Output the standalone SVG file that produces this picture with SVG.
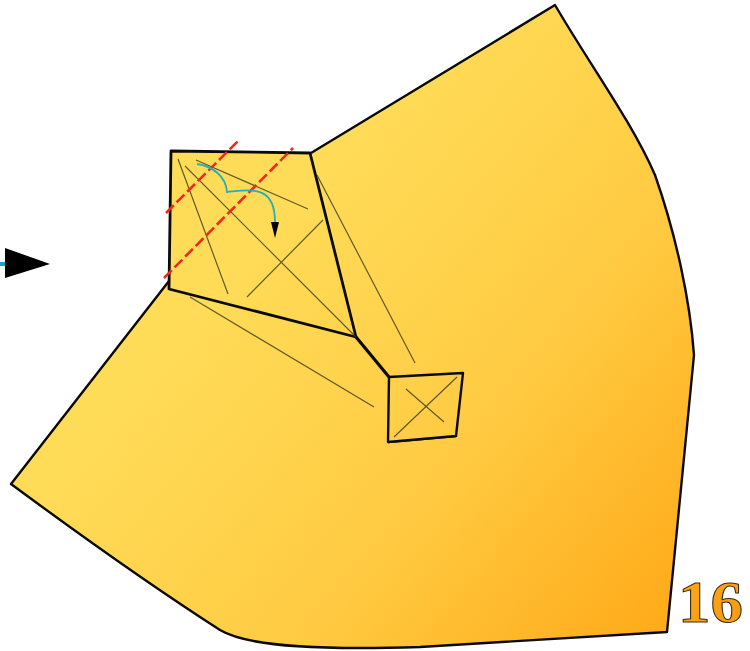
<svg xmlns="http://www.w3.org/2000/svg" width="750" height="651" viewBox="0 0 750 651">
<style>
.o{fill:none;stroke:#0a0a0a;stroke-linejoin:round}
.t{fill:none;stroke:#3a3a1e;stroke-width:1.2;opacity:.8}
.d{fill:none;stroke:#ee2a1c;stroke-width:2.6;stroke-dasharray:11 4}
</style>
<defs>
<linearGradient id="g" gradientUnits="userSpaceOnUse" x1="240" y1="250" x2="690" y2="630">
<stop offset="0" stop-color="#ffdc58"/><stop offset=".5" stop-color="#ffcb42"/><stop offset="1" stop-color="#ffa816"/>
</linearGradient>
<linearGradient id="n" x1="0" y1="0" x2="1" y2="1"><stop offset="0" stop-color="#ffa91a"/><stop offset="1" stop-color="#f49a10"/></linearGradient>
</defs>
<g id="sheet">
<path d="M171 151L310 153L555 5C590 65 632 122 655 175C676 235 690 300 694 355L667 632L420 647C330 650 250 648 220 630C150 585 80 535 11 484L169 281Z" fill="url(#g)"/>
<path d="M311 153L555 5C590 65 632 122 655 175C676 235 690 300 694 355L667 632L420 647C330 650 250 648 220 630C150 585 80 535 11 484L169 281" class="o" stroke-width="2.4"/>
</g>
<g id="kite">
<path d="M171 151L310 153L356 337L169 289Z" class="o" stroke-width="2.8"/>
<path d="M356 337L389 377" class="o" stroke-width="3.2"/>
</g>
<g id="square">
<path d="M389 377L463 373L456 436L388 442Z" class="o" stroke-width="2.4"/>
<path d="M388 442.500L456 436.500" class="o" stroke-width="1.400"/>
</g>
<g id="connectors">
<path class="t" d="M178 159L228 294M185 166L356 337M196 160L308 209M323 220L247 297M190 297L374 407M317 175L415 363M457 377L394 437M406 389L444 422"/>
<path class="d" d="M166 213L238 141M164 278L293 148"/>
<path d="M197 164C212 166 226 176 227 192C250 190 275 184 275 222" fill="none" stroke="#25aebd" stroke-width="1.8"/>
<path d="M271 222L279 222L275 238Z" fill="#000"/>
<path d="M0 264L8 264" stroke="#1ba5c8" stroke-width="4"/>
<path d="M5 248L50 264L5 278Z" fill="#000"/>
</g>
<text id="page-number" x="678" y="622" font-family="'Liberation Serif',serif" font-weight="700" font-size="60" textLength="65" lengthAdjust="spacingAndGlyphs" fill="url(#n)" stroke="#3a2a10" stroke-width="1">16</text>
</svg>
